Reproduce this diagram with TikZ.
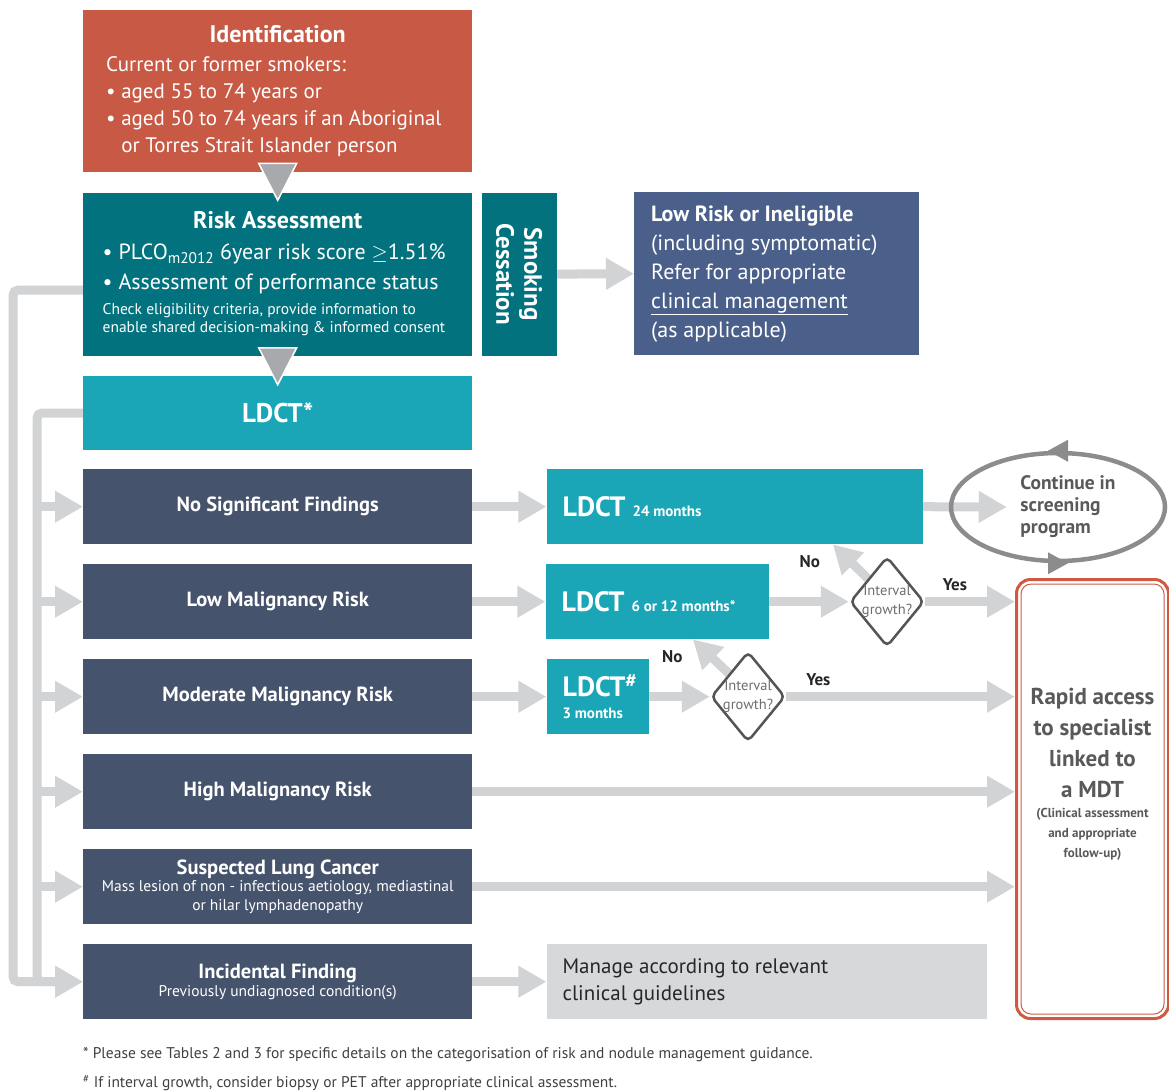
\documentclass[tikz,border=0pt]{standalone}
\usepackage{fontspec}
\setmainfont{PT Sans}
\usetikzlibrary{positioning,shapes.geometric,arrows.meta,backgrounds}

\definecolor{idred}{RGB}{199,89,69}
\definecolor{riskteal}{RGB}{2,115,126}
\definecolor{ldctcyan}{RGB}{27,166,183}
\definecolor{lowblue}{RGB}{74,96,138}
\definecolor{rowslate}{RGB}{69,83,108}
\definecolor{flowgray}{RGB}{209,211,212}
\definecolor{trigray}{RGB}{167,169,172}
\definecolor{mangray}{RGB}{215,216,218}
\definecolor{rapidred}{RGB}{205,90,65}
\definecolor{ringgray}{RGB}{140,140,142}
\definecolor{diagray}{RGB}{85,85,87}
\definecolor{txtgray}{RGB}{88,89,91}

\begin{document}
\begin{tikzpicture}[x=1pt, y=-1pt,
  box/.style={anchor=north west, inner sep=0pt, text=white},
  row/.style={box, fill=rowslate, minimum width=389pt, minimum height=75pt, text width=380pt, align=flush center, font=\fontsize{20.5}{23}\selectfont\bfseries},
  ct/.style={box, fill=ldctcyan, minimum height=75pt, align=flush left, font=\fontsize{28}{30}\selectfont\bfseries},
  flow/.style={draw=flowgray, line width=9pt, -{Triangle[width=30pt,length=28pt]}},
  link/.style={flow, rounded corners=5pt},
  tri/.style={fill=trigray, draw=white, line width=1.5pt},
  decision/.style={diamond, draw=diagray, line width=2.5pt, fill=white, rounded corners=5pt, minimum width=74pt, minimum height=90pt, inner sep=0pt},
  dtext/.style={inner sep=0pt, text=diagray!85, align=center, font=\fontsize{14.5}{19}\selectfont},
  ans/.style={inner sep=0pt, text=black!85, font=\fontsize{17}{20}\selectfont\bfseries},
  note/.style={anchor=west, inner sep=0pt, text=black!75, font=\fontsize{15.5}{17}\selectfont}
]
\useasboundingbox (0,0) rectangle (1169,1090);

% Nodes
% screening entry
\node[box, fill=idred, minimum width=389pt, minimum height=162pt, text width=343pt, align=flush left] (ident) at (83,10) {%
  {\centering\fontsize{24}{27}\selectfont\bfseries Identification\par}\vspace{2pt}%
  {\fontsize{21}{27}\selectfont Current or former smokers:\\
  \textbullet\ aged 55 to 74 years or\\
  \textbullet\ aged 50 to 74 years if an Aboriginal\\
  \hphantom{\textbullet\ }or Torres Strait Islander person\par}};
\node[box, fill=riskteal, below=20pt of ident, minimum width=389pt, minimum height=163pt, text width=350pt, align=flush left] (risk) {%
  {\centering\fontsize{24}{28}\selectfont\bfseries Risk Assessment\par}\vspace{1pt}%
  {\fontsize{22}{30}\selectfont \textbullet\ PLCO\textsubscript{m2012} 6year risk score $\geq$1.51\%\\
  \textbullet\ Assessment of performance status\par}\vspace{7pt}%
  {\fontsize{15.5}{18}\selectfont Check eligibility criteria, provide information to\\enable shared decision-making \& informed consent\par}};
\node[box, fill=riskteal, rotate=-90, anchor=south, minimum width=163pt, minimum height=75pt, align=center, font=\fontsize{25}{28}\selectfont\bfseries] (smoke) at ([xshift=9pt]risk.east) {Smoking\\Cessation};
\node[box, fill=lowblue, minimum width=285pt, minimum height=163pt, text width=251pt, align=flush left, font=\fontsize{22}{29}\selectfont] (lowrisk) at (634,192) {\textbf{Low Risk or Ineligible}\\(including symptomatic)\\Refer for appropriate\\\underline{clinical management}\\(as applicable)};
\node[box, fill=ldctcyan, below=20pt of risk, minimum width=389pt, minimum height=74pt, font=\fontsize{27}{30}\selectfont\bfseries] (ldct) {LDCT*};

% findings
\node[row] (nsf) at (83,469) {No Significant Findings};
\node[row, below=19.6pt of nsf] (low) {Low Malignancy Risk};
\node[row, below=19.6pt of low] (mod) {Moderate Malignancy Risk};
\node[row, below=19.6pt of mod] (high) {High Malignancy Risk};
\node[row, below=19.6pt of high] (susp) {Suspected Lung Cancer\\[-2pt]
  {\fontsize{15.5}{19}\selectfont\mdseries Mass lesion of non - infectious aetiology, mediastinal\\or hilar lymphadenopathy\par}};
\node[row, below=19.6pt of susp] (incid) {Incidental Finding\\[-1pt]
  {\fontsize{15.5}{19}\selectfont\mdseries Previously undiagnosed condition(s)\par}};

% follow-up
\node[ct, right=74pt of nsf, minimum width=376pt, text width=344pt] (ldct24) {LDCT {\fontsize{15}{16}\selectfont 24 months}};
\node[ct, right=73pt of low, minimum width=223pt, text width=191pt] (ldct6) {LDCT {\fontsize{15}{16}\selectfont 6 or 12 months*}};
\node[ct, right=74pt of mod, minimum width=102pt, text width=70pt] (ldct3) {LDCT\textsuperscript{\#}\\[-8pt]{\fontsize{15}{16}\selectfont 3 months}};
\node[decision, right=80pt of ldct6, label={[dtext]center:Interval\\growth?}] (d1) {};
\node[decision, right=61pt of ldct3, label={[dtext]center:Interval\\growth?}] (d2) {};
\node[ellipse, draw=ringgray, line width=4.5pt, minimum width=214pt, minimum height=108pt, inner sep=0pt,
  label={[xshift=10pt, inner sep=0pt, align=left, text=txtgray, font=\fontsize{19.5}{22}\selectfont\bfseries]center:Continue in\\screening\\program}] (cont) at (1058,507) {};
\node[box, draw=rapidred, line width=3pt, rounded corners=14pt, minimum width=152pt, minimum height=439pt] (rapid) at (1015,578) {};
\node[text width=150pt, align=flush center, inner sep=0pt, text=txtgray, font=\fontsize{23}{31}\selectfont\bfseries] (rapidtxt) at ([yshift=25pt]rapid.center) {Rapid access\\to specialist\\linked to\\a MDT\par
  {\fontsize{13}{20}\selectfont (Clinical assessment\\and appropriate\\follow-up)\par}};
\node[box, fill=mangray, right=74pt of incid, minimum width=440pt, minimum height=75pt, text width=408pt, align=flush left, text=black!85, font=\fontsize{21}{27}\selectfont] (manage) {Manage according to relevant\\clinical guidelines};

\node[note] (fn1) at (83,1055) {* Please see Tables 2 and 3 for specific details on the categorisation of risk and nodule management guidance.};
\node[note, below=13pt of fn1.south west, anchor=north west] (fn2) {\textsuperscript{\#} If interval growth, consider biopsy or PET after appropriate clinical assessment.};

\coordinate (rail1) at (13,0);
\coordinate (rail2) at (37,0);

% connectors
\begin{scope}[on background layer]
\draw[link] ([yshift=-16pt]risk.west) -| (rail1 |- incid.west) -- (incid.west);
\draw[link] (ldct.west) -| (rail2 |- incid.west) -- (incid.west);
\foreach \r in {nsf,low,mod,high,susp}
  \draw[flow] (rail2 |- \r.west) -- (\r.west);
\draw[flow] (smoke.north) -- (lowrisk.west);
\draw[flow] (nsf) -- (ldct24);
\draw[flow] (low) -- (ldct6);
\draw[flow] (mod) -- (ldct3);
\draw[flow] (incid) -- (manage);
\draw[flow] (ldct24.east) -- ([xshift=58pt]cont.west);
\draw[flow] (ldct6.east) -- (d1.west);
\draw[flow] (ldct3.east) -- (d2.west);
\draw[flow] (d1.east) -- (d1.east -| rapid.west) node[ans, pos=0.33, above=6pt] {Yes};
\draw[flow] (d2.east) -- (d2.east -| rapid.west) node[ans, pos=0.14, above=6pt] {Yes};
\draw[flow] (d1.north west) -- ([xshift=-35pt]d1.north west |- ldct24.south) node[ans, midway, left=26pt] {No};
\draw[flow] (d2.north west) -- ([xshift=-36pt]d2.north west |- ldct6.south) node[ans, midway, left=24pt] {No};
\draw[flow] (high.east) -- (high.east -| rapid.west);
\draw[flow] (susp.east) -- (susp.east -| rapid.west);
\end{scope}

\fill[tri] ([xshift=-19pt,yshift=29pt]risk.north) -- ([xshift=19pt,yshift=29pt]risk.north) -- ([yshift=-8pt]risk.north) -- cycle;
\fill[tri] ([xshift=-19pt,yshift=28pt]ldct.north) -- ([xshift=19pt,yshift=28pt]ldct.north) -- ([yshift=-9pt]ldct.north) -- cycle;
\fill[ringgray] ([xshift=-10pt]cont.north) -- ([xshift=10pt,yshift=11pt]cont.north) -- ([xshift=10pt,yshift=-11pt]cont.north) -- cycle;
\fill[ringgray] ([xshift=10pt]cont.south) -- ([xshift=-10pt,yshift=11pt]cont.south) -- ([xshift=-10pt,yshift=-11pt]cont.south) -- cycle;
\draw[rapidred, line width=1pt, rounded corners=10pt] ([shift={(6,6)}]rapid.north west) rectangle ([shift={(-6,-6)}]rapid.south east);

\end{tikzpicture}
\end{document}
